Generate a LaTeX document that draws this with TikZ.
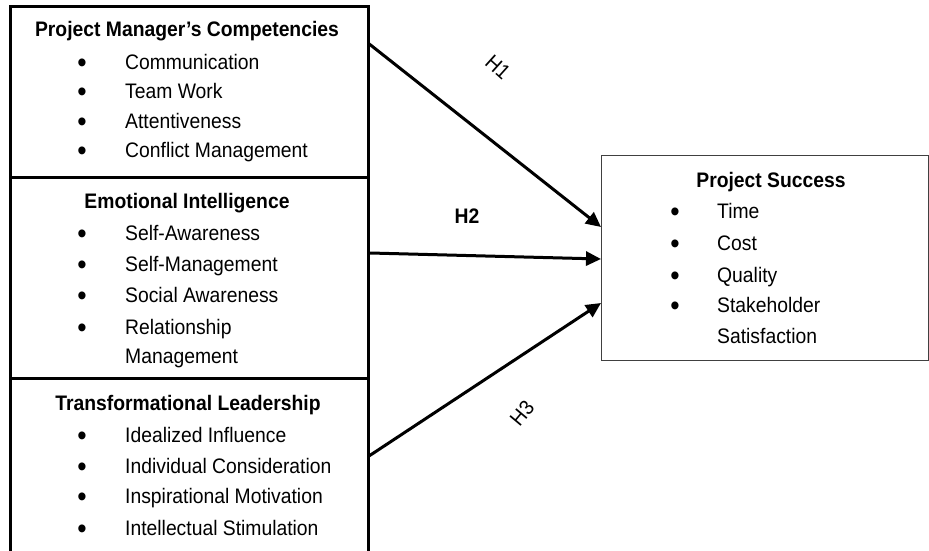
\documentclass[tikz,border=0pt]{standalone}
\usepackage{fontspec}
\setmainfont{Liberation Sans}[FakeStretch=0.92]
\usetikzlibrary{arrows.meta}
\begin{document}
\begin{tikzpicture}[x=1pt,y=-1pt,
  lbox/.style={draw=black,line width=2.6pt,inner sep=0pt,anchor=north west,minimum width=358pt},
  rbox/.style={draw=black!75,line width=1.4pt,inner sep=0pt,anchor=north west},
  txt/.style={inner sep=0pt,font=\fontsize{21}{25}\selectfont},
  ttl/.style={txt,anchor=base,font=\fontsize{21}{25}\selectfont\bfseries},
  itm/.style={txt,anchor=base west},
  bul/.style={txt,anchor=base,yshift=-3pt,font=\fontsize{29}{30}\selectfont},
  arr/.style={line width=3pt,-{Triangle[length=15pt,width=14pt]}},
  hlab/.style={txt,anchor=center}]
\useasboundingbox (0,0) rectangle (929,551);
\clip (0,0) rectangle (929,551);
% left boxes
\node[lbox,minimum height=171pt] (b1) at (9,5) {};
\node[lbox,minimum height=201pt] (b2) at (9,176) {};
\node[lbox,minimum height=200pt] (b3) at (9,377) {};
% right box
\node[rbox,minimum width=327pt,minimum height=205pt] (b4) at (601,155) {};
% box 1 text
\node[ttl] (t1) at (187,37) {Project Manager’s Competencies};
\node[bul] (p11) at (82,70) {•}; \node[itm] (i11) at (125,70) {Communication};
\node[bul] (p12) at (82,98) {•}; \node[itm] (i12) at (125,98) {Team Work};
\node[bul] (p13) at (82,128) {•}; \node[itm] (i13) at (125,128) {Attentiveness};
\node[bul] (p14) at (82,157) {•}; \node[itm] (i14) at (125,157) {Conflict Management};
% box 2 text
\node[ttl] (t2) at (187,208) {Emotional Intelligence};
\node[bul] (p21) at (82,240) {•}; \node[itm] (i21) at (125,240) {Self-Awareness};
\node[bul] (p22) at (82,271) {•}; \node[itm] (i22) at (125,271) {Self-Management};
\node[bul] (p23) at (82,302) {•}; \node[itm] (i23) at (125,302) {Social Awareness};
\node[bul] (p24) at (82,334) {•}; \node[itm] (i24) at (125,334) {Relationship};
\node[itm] (i25) at (125,363) {Management};
% box 3 text
\node[ttl] (t3) at (188,410) {Transformational Leadership};
\node[bul] (p31) at (82,442) {•}; \node[itm] (i31) at (125,442) {Idealized Influence};
\node[bul] (p32) at (82,473) {•}; \node[itm] (i32) at (125,473) {Individual Consideration};
\node[bul] (p33) at (82,503) {•}; \node[itm] (i33) at (125,503) {Inspirational Motivation};
\node[bul] (p34) at (82,535) {•}; \node[itm] (i34) at (125,535) {Intellectual Stimulation};
% right box text
\node[ttl] (t4) at (771,187) {Project Success};
\node[bul] (p41) at (675,218) {•}; \node[itm] (i41) at (717,218) {Time};
\node[bul] (p42) at (675,250) {•}; \node[itm] (i42) at (717,250) {Cost};
\node[bul] (p43) at (675,282) {•}; \node[itm] (i43) at (717,282) {Quality};
\node[bul] (p44) at (675,312) {•}; \node[itm] (i44) at (717,312) {Stakeholder};
\node[itm] (i45) at (717,343) {Satisfaction};
% arrows
\coordinate (s1) at (368,43);
\coordinate (e1) at (601,227);
\coordinate (s2) at (370,253);
\coordinate (e2) at (601,259);
\coordinate (s3) at (369,456);
\coordinate (e3) at (601,303);
\draw[arr] (s1) -- (e1);
\draw[arr] (s2) -- (e2);
\draw[arr] (s3) -- (e3);
% labels
\node[hlab,rotate=-42] (h1) at (498,67) {H1};
\node[hlab,font=\fontsize{21}{25}\selectfont\bfseries] (h2) at (467,216) {H2};
\node[hlab,rotate=50] (h3) at (522,413) {H3};
\end{tikzpicture}
\end{document}
